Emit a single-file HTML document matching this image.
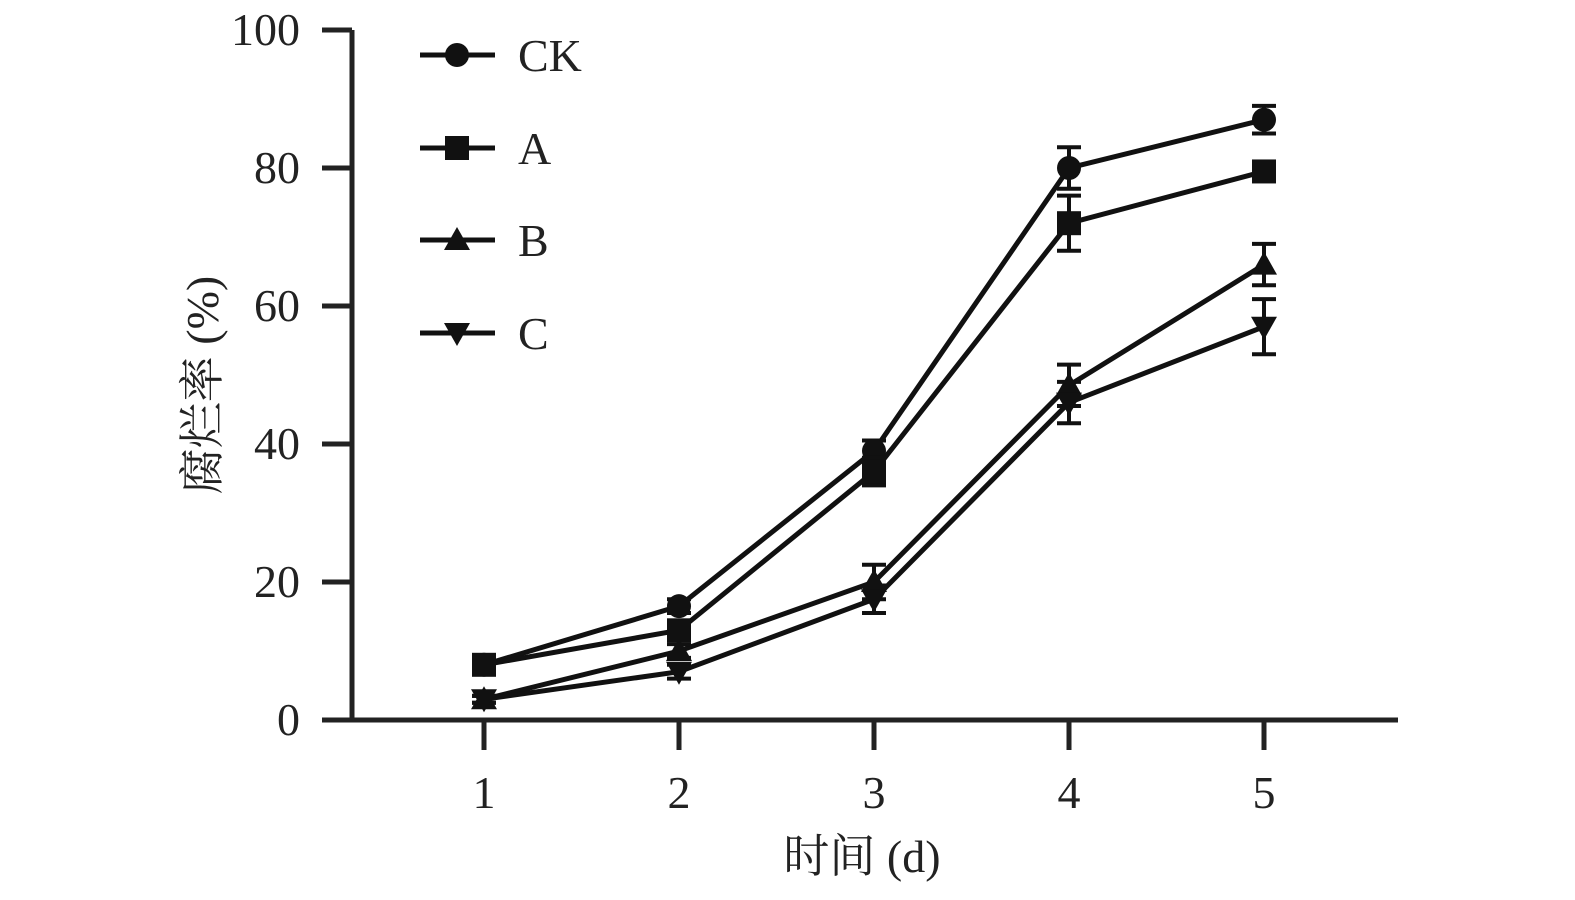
<!DOCTYPE html>
<html><head><meta charset="utf-8"><style>
body{margin:0;background:#fff;}
svg text{font-family:"Liberation Serif","Noto Serif CJK SC",serif;fill:#222;}
</style></head><body>
<svg width="1575" height="895" viewBox="0 0 1575 895" xmlns="http://www.w3.org/2000/svg">
<g id="axes"></g><g id="series"></g><g id="legend"></g>
</svg>
<script>
const days=[1,2,3,4,5];
const yTicks=[0,20,40,60,80,100];
const seriesNames=["CK","A","B","C"];
const ckVals=[8,16.5,39,80,87];
const aVals=[8,13,36,72,79.5];
const bVals=[3,10,20,48.5,66];
const cVals=[3,7,17.5,46,57];
const ckErr=[1,1,1.5,3,2];
const aErr=[1,1,2,4,1];
const bErr=[0.5,1,2.5,3,3];
const cErr=[0.5,1,2,3,4];
const NS="http://www.w3.org/2000/svg";
const X0=484,XS=195,Y0=720,YS=6.9;
const xs=d=>X0+(d-1)*XS, ys=v=>Y0-v*YS;
function mk(tag,attrs,parent,txt){const e=document.createElementNS(NS,tag);for(const k in attrs)e.setAttribute(k,attrs[k]);if(txt!==undefined)e.textContent=txt;parent.appendChild(e);return e;}
const ax=document.getElementById('axes');
let l=mk('line',{x1:352,y1:ys(100),x2:352,y2:Y0+2,stroke:'#222','stroke-width':5},ax);


l=mk('line',{x1:322,y1:Y0,x2:1398,y2:Y0,stroke:'#222','stroke-width':5},ax);


yTicks.forEach(t=>{
 const tk=mk('line',{x1:322,y1:ys(t),x2:352,y2:ys(t),stroke:'#222','stroke-width':5},ax);
 
 
 const tx=mk('text',{x:300,y:ys(t)+15,'font-size':46,'text-anchor':'end'},ax,String(t));
 
 
});
days.forEach(d=>{
 const tk=mk('line',{x1:xs(d),y1:Y0,x2:xs(d),y2:750,stroke:'#222','stroke-width':5},ax);
 
 
 const tx=mk('text',{x:xs(d),y:808,'font-size':46,'text-anchor':'middle'},ax,String(d));
 
 
});
let t=mk('text',{x:862,y:872,'font-size':46,'text-anchor':'middle'},ax,'时间 (d)');


t=mk('text',{x:0,y:0,'font-size':46,'text-anchor':'middle',transform:'translate(218,385) rotate(-90)'},ax,'腐烂率 (%)');



function marker(kind,x,y,g){
 let m;
 if(kind==='CK')m=mk('circle',{cx:x,cy:y,r:12,fill:'#111'},g);
 else if(kind==='A')m=mk('rect',{x:x-12,y:y-12,width:24,height:24,fill:'#111'},g);
 else if(kind==='B')m=mk('polygon',{points:`${x},${y-13} ${x+13},${y+10} ${x-13},${y+10}`,fill:'#111'},g);
 else m=mk('polygon',{points:`${x},${y+13} ${x+13},${y-10} ${x-13},${y-10}`,fill:'#111'},g);
 return m;
}
const sg=document.getElementById('series');
const allVals=[ckVals,aVals,bVals,cVals], allErr=[ckErr,aErr,bErr,cErr];
seriesNames.forEach((n,i)=>{
 const g=mk('g',{},sg);
 
 
 const pts=days.map((d,j)=>xs(d)+','+ys(allVals[i][j])).join(' ');
 const pl=mk('polyline',{points:pts,fill:'none',stroke:'#111','stroke-width':5},g);
 
 
 days.forEach((d,j)=>{
  const x=xs(d),v=allVals[i][j],e=allErr[i][j];
  const eb=mk('path',{d:`M${x},${ys(v+e)}V${ys(v-e)}M${x-12},${ys(v+e)}H${x+12}M${x-12},${ys(v-e)}H${x+12}`,stroke:'#111','stroke-width':4,fill:'none'},g);
  
  
  const m=marker(n,x,ys(v),g);
  
  
 });
});
const lg=document.getElementById('legend');
const legY=[55,148,240,333];
seriesNames.forEach((n,i)=>{
 const g=mk('g',{},lg);
 
 
 mk('line',{x1:420,y1:legY[i],x2:495,y2:legY[i],stroke:'#111','stroke-width':5},g);
 marker(n,457,legY[i],g);
 mk('text',{x:518,y:legY[i]+16,'font-size':46},g,n);
});
</script>
</body></html>
